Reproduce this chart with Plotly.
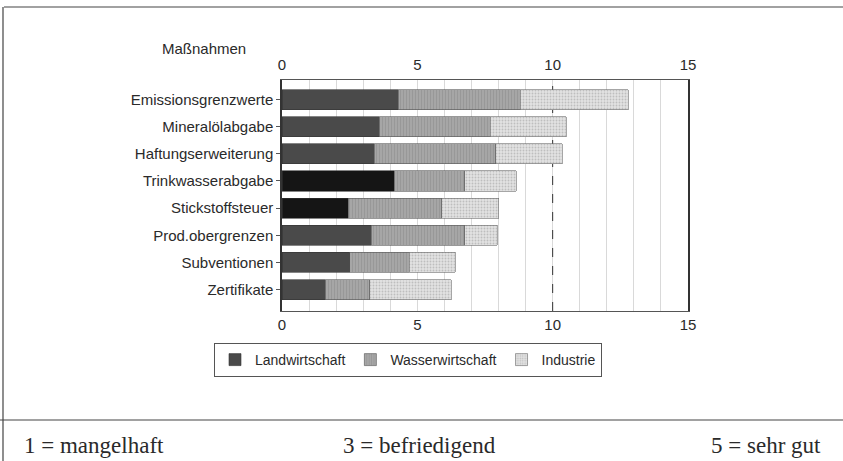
import plotly.graph_objects as go

# ---------------- data ----------------
measures = ["Emissionsgrenzwerte", "Mineralölabgabe", "Haftungserweiterung",
            "Trinkwasserabgabe", "Stickstoffsteuer", "Prod.obergrenzen",
            "Subventionen", "Zertifikate"]
landwirtschaft = [4.3, 3.6, 3.4, 4.15, 2.45, 3.3, 2.5, 1.6]
wasserwirtschaft = [4.5, 4.1, 4.5, 2.6, 3.45, 3.45, 2.2, 1.65]
industrie = [4.0, 2.8, 2.45, 1.9, 2.1, 1.2, 1.7, 3.0]
series_names = ["Landwirtschaft", "Wasserwirtschaft", "Industrie"]
x_ticks = [0, 5, 10, 15]
reference_value = 10
scale_notes = ["1 = mangelhaft", "3 = befriedigend", "5 = sehr gut"]
y_title = "Maßnahmen"

# ---------------- geometry (pixels) ----------------
FW, FH = 843, 461
L, R, T, B = 282, 155, 80, 150
PW, PH = FW - L - R, FH - T - B
Y_RANGE = [7.79, -0.72]


def px(x):
    return (x - L) / PW


def py(y):
    return (FH - B - y) / PH


SANS = "Liberation Sans, Arial, sans-serif"
SERIF = "Liberation Serif, Times New Roman, serif"
TXT = "#2a2a2a"

land_colors = ["#4a4a4a", "#4a4a4a", "#4a4a4a", "#151515", "#151515",
               "#4a4a4a", "#4a4a4a", "#4a4a4a"]

fig = go.Figure()
fig.add_trace(go.Bar(
    y=measures, x=landwirtschaft, orientation="h", name=series_names[0],
    marker=dict(color=land_colors, line=dict(color="#333333", width=0.6)),
))
fig.add_trace(go.Bar(
    y=measures, x=wasserwirtschaft, orientation="h", name=series_names[1],
    marker=dict(color="#a6a6a6", line=dict(color="#555555", width=0.6),
                pattern=dict(shape="|", fgcolor="#8a8a8a", size=3, solidity=0.35)),
))
fig.add_trace(go.Bar(
    y=measures, x=industrie, orientation="h", name=series_names[2],
    marker=dict(color="#e2e2e2", line=dict(color="#6a6a6a", width=0.6),
                pattern=dict(shape=".", fgcolor="#9a9a9a", size=3, solidity=0.3)),
))

fig.update_layout(
    width=FW, height=FH,
    margin=dict(l=L, r=R, t=T, b=B, pad=0, autoexpand=False),
    barmode="stack", bargap=0.26,
    paper_bgcolor="white", plot_bgcolor="white",
    font=dict(family=SANS, size=14, color=TXT),
    showlegend=True,
    legend=dict(orientation="h", x=px(408), xanchor="center", y=py(343), yanchor="top",
                bgcolor="white", bordercolor="#555555", borderwidth=1,
                font=dict(family=SANS, size=14, color=TXT),
                traceorder="normal", itemwidth=30, tracegroupgap=0),
    xaxis=dict(range=[0, 15], tickvals=x_ticks, showgrid=True, gridcolor="#d9d9d9",
               gridwidth=1, zeroline=False, showline=True, linecolor="#555555",
               linewidth=1, mirror=True, ticks="",
               tickfont=dict(family=SANS, size=15, color=TXT),
               minor=dict(dtick=1, showgrid=True, gridcolor="#d9d9d9", gridwidth=1)),
    xaxis2=dict(range=[0, 15], tickvals=x_ticks, overlaying="x", side="top",
                matches="x", showgrid=False, zeroline=False, showline=False,
                ticks="outside", ticklen=3, tickcolor="rgba(0,0,0,0)",
                tickfont=dict(family=SANS, size=15, color=TXT)),
    yaxis=dict(type="category", categoryorder="array", categoryarray=measures,
               range=Y_RANGE, showgrid=False, zeroline=False, showline=True,
               linecolor="#333333", linewidth=1.5, mirror=True,
               ticks="outside", ticklen=4, tickcolor="#555555",
               tickfont=dict(family=SANS, size=15, color=TXT)),
)

# invisible copy so the top axis is rendered with the same scale
fig.add_trace(go.Bar(y=measures, x=landwirtschaft, orientation="h", xaxis="x2",
                     marker=dict(color="rgba(0,0,0,0)"), showlegend=False,
                     hoverinfo="skip", opacity=0))

# dashed reference line at 10 (between grid and bars)
fig.add_shape(type="line", xref="x", yref="y", x0=reference_value, x1=reference_value,
              y0=Y_RANGE[0], y1=Y_RANGE[1], layer="between",
              line=dict(color="#333333", width=1, dash="dash"))

# outer frame and rule
frame = dict(color="#444444", width=1.2)
fig.add_shape(type="line", xref="paper", yref="paper", x0=px(4), x1=px(843),
              y0=py(7), y1=py(7), line=frame)
fig.add_shape(type="line", xref="paper", yref="paper", x0=px(3), x1=px(3),
              y0=py(7), y1=py(461), line=frame)
fig.add_shape(type="line", xref="paper", yref="paper", x0=px(0), x1=px(843),
              y0=py(420), y1=py(420), line=frame)

# title of category axis
fig.add_annotation(text=y_title, xref="paper", yref="paper", x=px(160), y=py(48),
                   xanchor="left", yanchor="middle", showarrow=False,
                   font=dict(family=SANS, size=15, color=TXT))

# rating scale notes
for txt, xpos in zip(scale_notes, [22, 341, 709]):
    fig.add_annotation(text=txt, xref="paper", yref="paper", x=px(xpos), y=py(446),
                       xanchor="left", yanchor="middle", showarrow=False,
                       font=dict(family=SERIF, size=23, color=TXT))

fig.write_html("out.html", config={"displayModeBar": False},
               post_script="document.body.style.margin='0';document.body.style.overflow='hidden';")
